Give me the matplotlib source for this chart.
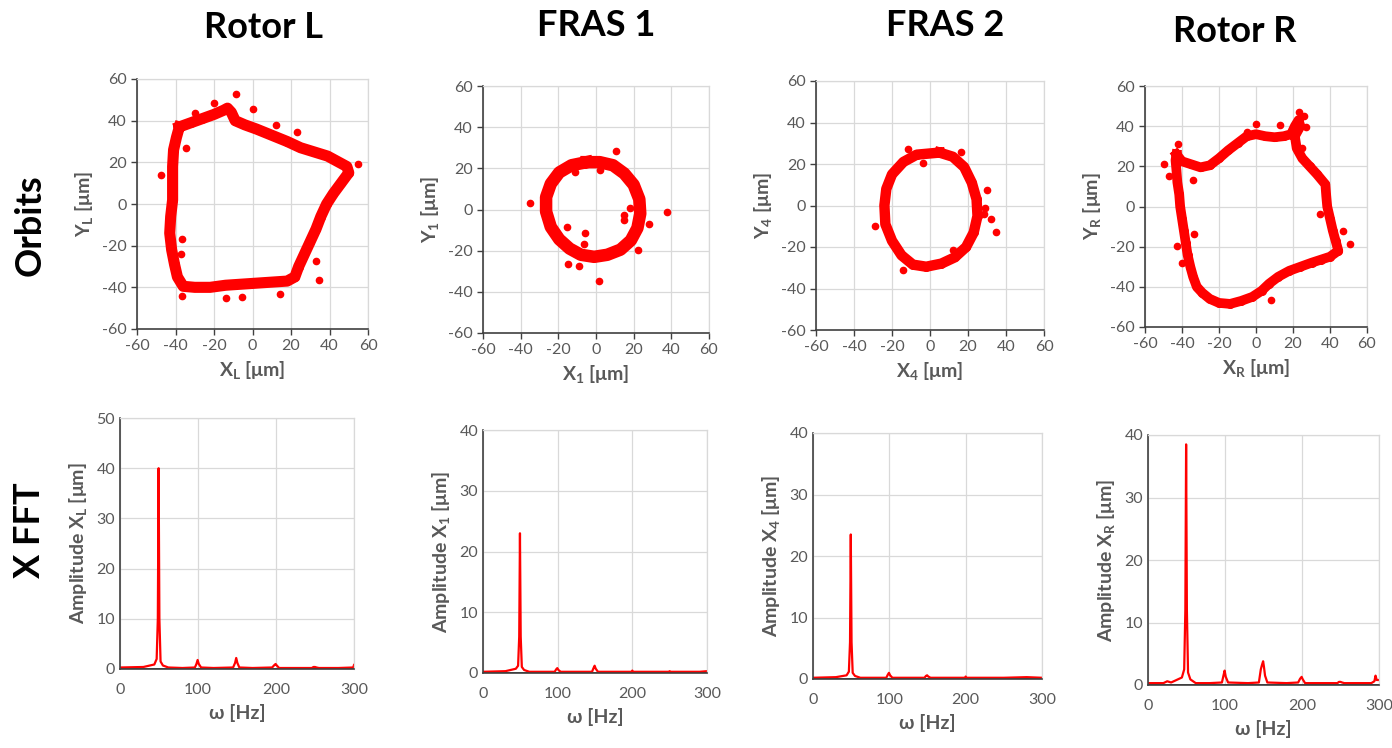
import matplotlib.pyplot as plt

plt.rcParams['font.family'] = ['Lato', 'DejaVu Sans']
plt.rcParams['mathtext.default'] = 'regular'
plt.rcParams['axes.unicode_minus'] = False

# ---- orbit data (centre line of each orbit band + stray points), um ----
rotorL_x = [-38, -32, -26, -20, -15, -13, -11, -9, -4, 2, 10, 18, 25, 32, 39, 45, 49, 50,
            46, 42, 38.5, 35.5, 33, 30, 27, 24, 22, 18, 10, 2, -6, -14, -22, -30, -36,
            -39, -40.5, -42, -43, -42.5, -41.5, -41.5, -41.5, -41, -39.5]
rotorL_y = [37, 39, 41, 43, 45, 46, 44, 40, 38, 36, 33, 30, 27, 25, 23, 20, 18, 15,
            10, 5, 0, -6, -12, -18, -24, -30, -35, -37, -37.5, -38, -38.5, -39, -40, -40, -39.5,
            -35, -29, -22, -14, -6, 2, 10, 18, 26, 32]
rotorL_out_x = [-47.5, -8.4, 0, -20, 55, -36.6, -13.6, -5.5, 14.5, 34.4, 33.2, -37, -36.6, -34.4, -30, 23, 12]
rotorL_out_y = [14, 52.8, 45.6, 48.5, 19.2, -44, -45, -44.6, -43.2, -36.6, -27.2, -24, -16.6, 27, 43.5, 34.5, 38]

fras1_x = [-5, 2, 9, 15, 20, 23, 23.5, 22, 18.5, 13, 6, -1, -8, -14, -19.5, -24, -26.5,
           -26.5, -24, -19.5, -13]
fras1_y = [23, 23, 21.5, 17.5, 12, 5, -2, -9, -15, -19.5, -22, -23, -22, -19, -14.5, -8.5, -1,
           6, 12.5, 18, 21.5]
fras1_out_x = [-34.9, 37.8, 1.8, -15.5, -5.8, -6.4, 14.8, 15, 18.3, 10.4, -15, -8.8, 22.4, 28.2, 2.1, -11]
fras1_out_y = [3.2, -1.2, -34.9, -8.5, -11.3, -16.6, -2.8, -5, 0.7, 28.4, -26.3, -27.4, -19.8, -6.9, 19, 18]

fras2_x = [5, 12, 18, 22, 24.5, 25, 23, 19, 13, 6, -2, -9, -15, -20, -23.5, -24, -23, -20,
           -14, -7]
fras2_y = [25.5, 23.5, 18.5, 11, 3, -5, -13, -20, -25, -28, -29.5, -28.5, -24, -17, -9, 0, 8, 15,
           21, 24.5]
fras2_out_x = [-28.9, 34.6, 31.9, 30.2, 29, -11.4, -3.9, 16.3, 12.3, -14, 28.5]
fras2_out_y = [-9.7, -12.6, -6.5, 7.5, -1, 27.1, 20.3, 26, -21.4, -31.1, -4]

rotorR_x = [-43, -40, -35, -30, -25, -20, -15, -10, -5, 0, 5, 10, 15, 19, 21, 23, 24, 21, 22,
            25, 29, 33, 37.5, 38, 38.5, 40, 41.5, 43, 44.5, 40, 35, 30, 24, 18, 12, 7, 3, -2,
            -8, -14, -20, -25, -29, -32, -34, -35.5, -37, -38, -39, -40, -41, -41.5, -42.5,
            -43, -43.5]
rotorR_y = [26, 22.5, 21, 19.5, 20.5, 24, 28, 31.5, 35, 36, 35, 34.5, 35, 36, 40, 43, 40, 35,
            29, 24, 20, 16, 11, 5, 0, -6, -12, -17, -22, -25, -26.5, -28, -30, -32, -35, -38.5,
            -42, -45, -47, -48.5, -48, -46, -43, -40, -35, -30, -24, -18, -12, -6, 0, 6, 12,
            18, 23]
rotorR_out_x = [-49.5, -47, -42, -34.2, -33.3, -42.9, -40.2, 0.1, 8.2, 50.6, 47, 34.4, 25, 27.2, 13.1, -5, 23, 26]
rotorR_out_y = [21.3, 15, 31.3, 13, -13.5, -19.7, -28, 41.2, -46.7, -18.8, -12.2, -3.6, 29, 39.6, 40.4, 37, 47, 45]

# ---- FFT data: frequency [Hz] and amplitude [um] ----
fftL_f = [0, 30, 44, 47, 48.5, 49.5, 50.5, 52, 55, 62, 80, 96, 98, 99.5, 101, 104, 120, 145,
          147.5, 149, 150.5, 153, 170, 195, 198, 199.5, 201, 204, 230, 246, 248, 250, 252,
          255, 280, 299, 300]
fftL_a = [0.3, 0.4, 0.9, 2.0, 10, 40, 10, 1.5, 0.7, 0.3, 0.2, 0.3, 1.0, 1.8, 1.0, 0.3, 0.2, 0.3,
          1.2, 2.2, 1.2, 0.3, 0.2, 0.3, 0.8, 1.0, 0.7, 0.2, 0.2, 0.2, 0.4, 0.4, 0.3, 0.2, 0.2,
          0.3, 0.8]

fft1_f = [0, 30, 44, 47, 48.5, 49.5, 50.5, 52, 55, 62, 80, 96, 98, 99.5, 101, 104, 130, 146,
          148, 149.5, 151, 154, 190, 199, 200, 201, 240, 249, 250, 251, 290, 300]
fft1_a = [0.2, 0.3, 0.7, 1.2, 6, 23, 6, 1.0, 0.5, 0.2, 0.2, 0.2, 0.6, 0.8, 0.5, 0.2, 0.2, 0.2,
          0.8, 1.2, 0.7, 0.2, 0.2, 0.2, 0.4, 0.2, 0.2, 0.2, 0.3, 0.2, 0.2, 0.3]

fft2_f = [0, 30, 44, 47, 48.5, 49.5, 50.5, 52, 55, 62, 80, 96, 98, 99.5, 101, 104, 130, 146,
          148, 149.5, 151, 154, 190, 199, 200, 201, 250, 280, 300]
fft2_a = [0.2, 0.3, 0.6, 1.2, 6, 23.5, 6, 1.0, 0.5, 0.2, 0.2, 0.2, 0.7, 1.0, 0.6, 0.2, 0.2, 0.2,
          0.5, 0.6, 0.4, 0.2, 0.2, 0.2, 0.4, 0.2, 0.2, 0.3, 0.2]

fftR_f = [0, 20, 25, 30, 44, 47, 48.5, 49.5, 50.5, 52, 55, 62, 80, 96, 98, 99.5, 101, 104, 130,
          144, 146.5, 148, 149.5, 150.5, 152, 155, 180, 195, 197.5, 199.5, 201, 204, 230, 246,
          248, 250, 252, 255, 290, 294, 295.5, 297, 300]
fftR_a = [0.3, 0.3, 0.6, 0.4, 1.2, 2.5, 12, 38.5, 12, 2.0, 0.9, 0.3, 0.3, 0.4, 1.5, 2.3, 1.3, 0.4,
          0.3, 0.4, 2.5, 3.2, 3.8, 3.0, 1.5, 0.4, 0.3, 0.4, 1.0, 1.3, 0.9, 0.3, 0.3, 0.3, 0.5, 0.5,
          0.4, 0.3, 0.3, 0.6, 1.5, 0.8, 0.8]

col_titles = ['Rotor L', 'FRAS 1', 'FRAS 2', 'Rotor R']
subs = ['L', '1', '4', 'R']

RED = '#ff0000'
GREY = '#595959'
GRID = '#d9d9d9'

W, H = 1392, 748
fig = plt.figure(figsize=(W / 100, H / 100), dpi=100)


def box(x0, y0, x1, y1):
    return fig.add_axes([x0 / W, 1 - y1 / H, (x1 - x0) / W, (y1 - y0) / H])


def style(ax, ticklen):
    ax.grid(True, color=GRID, lw=0.9)
    ax.set_axisbelow(True)
    for s in ['top', 'right']:
        ax.spines[s].set_color(GRID)
        ax.spines[s].set_linewidth(0.9)
    for s in ['left', 'bottom']:
        ax.spines[s].set_color('#404040')
        ax.spines[s].set_linewidth(1.2)
    ax.tick_params(labelsize=11.5, labelcolor=GREY, color='#404040', length=ticklen, width=1)


def orbit(ax, xs, ys, ox, oy, lw, sub):
    ax.plot(xs + [xs[0]], ys + [ys[0]], color=RED, lw=lw, solid_joinstyle='round')
    ax.plot(xs, ys, 'o', color=RED, ms=5.5)
    ax.plot(ox, oy, 'o', color=RED, ms=4.5, ls='none')
    ax.set_xlim(-60, 60)
    ax.set_ylim(-60, 60)
    ax.set_xticks(range(-60, 61, 20))
    ax.set_yticks(range(-60, 61, 20))
    style(ax, 4)
    ax.set_xlabel('X$_{%s}$ [μm]' % sub, fontsize=14, fontweight='bold', color=GREY, labelpad=4)
    ax.set_ylabel('Y$_{%s}$ [μm]' % sub, fontsize=14, fontweight='bold', color=GREY, labelpad=5)


def fft(ax, f, a, ymax, sub):
    ax.axhline(0, color='#202020', lw=1.2, zorder=1)
    ax.plot(f, a, color=RED, lw=1.6, zorder=2)
    ax.set_xlim(0, 300)
    ax.set_ylim(0, ymax)
    ax.set_xticks([0, 100, 200, 300])
    ax.set_yticks(range(0, ymax + 1, 10))
    style(ax, 0)
    ax.tick_params(axis='x', pad=10)
    ax.set_xlabel('ω [Hz]', fontsize=14, fontweight='bold', color=GREY, labelpad=5)
    ax.set_ylabel('Amplitude X$_{%s}$ [μm]' % sub, fontsize=14, fontweight='bold', color=GREY,
                  labelpad=5)


orbit(box(137, 79, 368, 329), rotorL_x, rotorL_y, rotorL_out_x, rotorL_out_y, 8, subs[0])
orbit(box(483, 86, 709, 333), fras1_x, fras1_y, fras1_out_x, fras1_out_y, 9, subs[1])
orbit(box(816, 81, 1044, 330), fras2_x, fras2_y, fras2_out_x, fras2_out_y, 7.5, subs[2])
orbit(box(1145, 86, 1367, 327), rotorR_x, rotorR_y, rotorR_out_x, rotorR_out_y, 7, subs[3])

fft(box(120, 418, 354, 669), fftL_f, fftL_a, 50, subs[0])
fft(box(483, 430, 707, 673), fft1_f, fft1_a, 40, subs[1])
fft(box(813, 433, 1042, 679), fft2_f, fft2_a, 40, subs[2])
fft(box(1148, 435, 1379, 685), fftR_f, fftR_a, 40, subs[3])

title_pos = [(263, 28), (596, 25), (945, 25), (1235, 32)]
for t, (x, y) in zip(col_titles, title_pos):
    fig.text(x / W, 1 - y / H, t, ha='center', va='center', fontsize=26, fontweight='bold')

fig.text(30 / W, 1 - 225 / H, 'Orbits', ha='center', va='center', rotation=90,
         fontsize=26, fontweight='bold')
fig.text(30 / W, 1 - 530 / H, 'X FFT', ha='center', va='center', rotation=90,
         fontsize=26, fontweight='bold')

fig.savefig('out.png', dpi=100)
